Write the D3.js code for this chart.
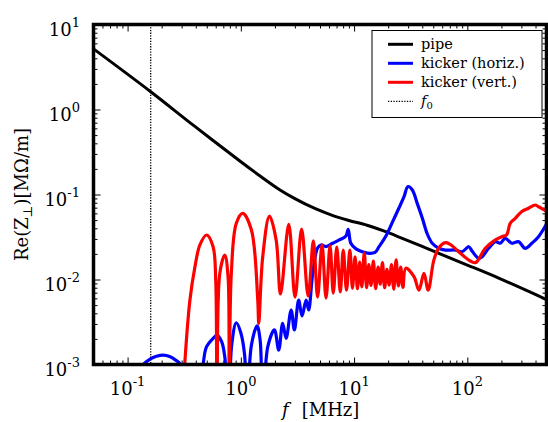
<!DOCTYPE html>
<html>
<head>
<meta charset="utf-8">
<script src="https://cdnjs.cloudflare.com/ajax/libs/d3/7.8.5/d3.min.js"></script>
<style>
  body { margin: 0; background: #fff; }
  svg { display: block; font-family: "DejaVu Serif", serif; }
</style>
</head>
<body>
<svg id="chart" width="548" height="422"></svg>
<script>
// Tick values (MHz / MOhm per m)
const xMajor = [0.1, 1, 10, 100];
const yMajor = [1e-3, 1e-2, 1e-1, 1, 10];
const xExp = ["-1", "0", "1", "2"];
const yExp = ["-3", "-2", "-1", "0", "1"];

// revolution frequency
const f0 = 0.16;

// [f in MHz, Re(Z) in MOhm/m]
const pipe = [
  [0.05, 5.17], [0.16, 1.62], [0.385, 0.645], [1.0, 0.243], [1.5, 0.163],
  [2.2, 0.114], [3.0, 0.0895], [4.5, 0.0685], [6.5, 0.0565], [9, 0.0495],
  [13, 0.0435], [18, 0.0375], [25, 0.0316], [56, 0.0203], [100, 0.0148],
  [189, 0.0104], [368, 0.0070], [500, 0.0058]
];

const horiz = [
  [0.13, 8e-4], [0.138, 1.0e-3], [0.158, 1.16e-3], [0.18, 1.25e-3], [0.207, 1.29e-3],
  [0.235, 1.24e-3], [0.262, 1.14e-3], [0.295, 1.0e-3], [0.33, 5e-4], [0.40, 2e-4],
  [0.464, 1.0e-3], [0.498, 1.62e-3], [0.569, 2.03e-3], [0.617, 2.22e-3], [0.678, 1.84e-3],
  [0.721, 1.24e-3], [0.78, 3e-4],
  [0.83, 1.69e-3], [0.912, 3.1e-3], [0.995, 2.41e-3], [1.08, 1.29e-3], [1.13, 3e-4],
  [1.24, 1.69e-3], [1.39, 2.84e-3], [1.48, 1.94e-3], [1.56, 3e-4],
  [1.73, 1.62e-3], [1.98, 2.55e-3], [2.16, 1.48e-3], [2.34, 3.05e-3], [2.51, 2.03e-3],
  [2.78, 4.38e-3], [2.97, 2.55e-3], [3.24, 5.74e-3], [3.47, 3.72e-3], [3.77, 5.74e-3],
  [3.97, 4.38e-3], [4.31, 0.0118], [4.76, 0.0235], [5.10, 0.0255], [5.65, 0.0244],
  [6.46, 0.0267], [7.39, 0.0292], [8.47, 0.0325], [8.87, 0.039], [9.36, 0.0267],
  [10.4, 0.0229], [11.8, 0.0212], [13.6, 0.0203], [15.3, 0.0208], [16.6, 0.0243],
  [19.1, 0.0325], [21.8, 0.0474], [24.9, 0.0693], [27.6, 0.0942], [29.9, 0.124],
  [32.7, 0.113], [36.1, 0.0787], [40.0, 0.053], [44.3, 0.0343], [49.0, 0.0267],
  [56.0, 0.0233], [64.1, 0.0222], [78.5, 0.0222], [89.8, 0.0212], [103, 0.0243],
  [110, 0.0216], [126, 0.0177], [135, 0.0185], [154, 0.0233], [177, 0.0279],
  [195, 0.0267], [216, 0.0305], [247, 0.0267], [283, 0.0279], [324, 0.0233],
  [371, 0.0267], [425, 0.0319], [500, 0.045]
];

const vert = [
  [0.30, 2e-4], [0.32, 1.04e-3], [0.355, 5.7e-3], [0.393, 0.014], [0.435, 0.0255],
  [0.498, 0.0334], [0.569, 0.0243], [0.60, 0.0099], [0.616, 3e-4],
  [0.652, 0.0118], [0.721, 0.0194], [0.771, 0.0108], [0.786, 3e-4],
  [0.824, 0.0118], [0.912, 0.0458], [1.04, 0.060], [1.24, 0.0382], [1.41, 0.00574],
  [1.44, 0.00305], [1.56, 0.0185], [1.79, 0.0558], [2.05, 0.0292], [2.24, 0.00675],
  [2.65, 0.0444], [3.01, 0.00622], [3.44, 0.0393], [3.93, 0.0064], [4.37, 0.0284],
  [4.76, 0.00622], [5.21, 0.0255], [5.65, 0.00605], [6.13, 0.0248], [6.55, 0.00693],
  [7.03, 0.0241], [7.55, 0.00713], [8.02, 0.0222], [8.57, 0.0075], [9.18, 0.0222],
  [9.67, 0.0079],
  [10.2, 0.0185], [10.7, 0.0078], [11.2, 0.016], [11.7, 0.0082], [12.3, 0.0205],
  [12.9, 0.008], [13.5, 0.015], [14.1, 0.0085], [14.8, 0.0165], [15.5, 0.0078],
  [16.3, 0.014], [17.0, 0.0088], [17.8, 0.0158], [18.6, 0.008], [19.5, 0.0132],
  [20.4, 0.0086], [21.4, 0.015], [22.4, 0.0077], [23.5, 0.017], [24.6, 0.0084],
  [25.8, 0.014], [27.0, 0.0081],
  [28.6, 0.0136], [33.8, 0.0108], [37.4, 0.0075], [41.4, 0.0118], [45.1, 0.0075],
  [50.6, 0.0169], [56.0, 0.0235], [64.1, 0.0271], [70, 0.026], [84, 0.0212],
  [103, 0.0169], [118, 0.0158], [144, 0.0233], [177, 0.0292], [201, 0.0319],
  [222, 0.0334], [239, 0.0458], [265, 0.0525], [301, 0.0628], [347, 0.0689],
  [397, 0.0752], [425, 0.0718], [480, 0.0657], [500, 0.064]
];

const legendItems = [
  {label: "pipe", color: "#000", dash: null},
  {label: "kicker (horiz.)", color: "#0000ff", dash: null},
  {label: "kicker (vert.)", color: "#ff0000", dash: null},
  {label: "f0", color: "#000", dash: "1.3,1.4"}
];

// Layout
const plotL = 93.5, plotR = 546.5, plotT = 24.5, plotB = 364.5;

const svg = d3.select("#chart");

const x = d3.scaleLog().domain([0.05, 500]).range([plotL, plotR]);
const y = d3.scaleLog().domain([1e-3, 10]).range([plotB, plotT]);

const xMinor = x.ticks().filter(d => !xMajor.some(m => Math.abs(m - d) < 1e-9));
const yMinor = y.ticks().filter(d => !yMajor.some(m => Math.abs(m - d) < 1e-9));

// Clip
svg.append("defs").append("clipPath").attr("id", "plot-clip")
  .append("rect")
  .attr("x", plotL).attr("y", plotT)
  .attr("width", plotR - plotL).attr("height", plotB - plotT);

// Ticks, all sides, pointing inward
let noDomain = g => g.select(".domain").remove();

let addAxis = function(axis, tx, ty, values, size) {
  svg.append("g")
    .attr("transform", `translate(${tx},${ty})`)
    .call(axis.tickValues(values).tickSize(-size).tickFormat(""))
    .call(noDomain)
    .selectAll("line").attr("stroke", "#000").attr("stroke-width", 1);
};

addAxis(d3.axisBottom(x), 0, plotB, xMajor, 7);
addAxis(d3.axisBottom(x), 0, plotB, xMinor, 4);
addAxis(d3.axisTop(x), 0, plotT, xMajor, 7);
addAxis(d3.axisTop(x), 0, plotT, xMinor, 4);
addAxis(d3.axisLeft(y), plotL, 0, yMajor, 7);
addAxis(d3.axisLeft(y), plotL, 0, yMinor, 4);
addAxis(d3.axisRight(y), plotR, 0, yMajor, 7);
addAxis(d3.axisRight(y), plotR, 0, yMinor, 4);

// f0 marker
svg.append("line")
  .attr("x1", x(f0)).attr("x2", x(f0))
  .attr("y1", plotT).attr("y2", plotB)
  .attr("stroke", "#000").attr("stroke-width", 1.3)
  .attr("stroke-dasharray", "1.3,1.4");

// Curves
let line = d3.line()
  .x(d => x(d[0]))
  .y(d => y(d[1]))
  .curve(d3.curveCatmullRom.alpha(0.5));

let curves = svg.append("g").attr("clip-path", "url(#plot-clip)");

[[pipe, "#000", 3], [horiz, "#0000ff", 3.2], [vert, "#ff0000", 3.2]].forEach(function(c) {
  curves.append("path")
    .datum(c[0])
    .attr("d", line)
    .attr("fill", "none")
    .attr("stroke", c[1])
    .attr("stroke-width", c[2])
    .attr("stroke-linejoin", "round");
});

// Frame
svg.append("rect")
  .attr("x", plotL).attr("y", plotT)
  .attr("width", plotR - plotL).attr("height", plotB - plotT)
  .attr("fill", "none").attr("stroke", "#000").attr("stroke-width", 3.5);

// Tick labels
let powLabel = function(sel, exp) {
  sel.append("tspan").text("10");
  sel.append("tspan").attr("dy", -9.5).attr("font-size", 13).text(exp);
};

xMajor.forEach(function(d, i) {
  svg.append("text")
    .attr("x", x(d)).attr("y", 395)
    .attr("text-anchor", "middle")
    .attr("font-size", 18)
    .call(powLabel, xExp[i]);
});

yMajor.forEach(function(d, i) {
  svg.append("text")
    .attr("x", 80).attr("y", y(d) + 11.8)
    .attr("text-anchor", "end")
    .attr("font-size", 18)
    .call(powLabel, yExp[i]);
});

// Axis titles
let xt = svg.append("text")
  .attr("x", 282).attr("y", 416)
  .attr("font-size", 18);
xt.append("tspan").attr("font-style", "italic").text("f");
xt.append("tspan").attr("dx", 13).text("[MHz]");

let yt = svg.append("text")
  .attr("transform", "translate(28,194.5) rotate(-90)")
  .attr("text-anchor", "middle")
  .attr("font-size", 18);
yt.append("tspan").text("Re(Z");
yt.append("tspan").attr("font-size", 12.6).attr("dy", 4).text("\u22a5");
yt.append("tspan").attr("dy", -4).text(")[M\u03a9/m]");

// Legend
let lg = svg.append("g");
lg.append("rect")
  .attr("x", 372).attr("y", 30.5)
  .attr("width", 170).attr("height", 87)
  .attr("fill", "#fff").attr("stroke", "#000").attr("stroke-width", 1);

legendItems.forEach(function(d, i) {
  let cy = 44.3 + i * 19;
  lg.append("line")
    .attr("x1", 388).attr("x2", 413)
    .attr("y1", cy).attr("y2", cy)
    .attr("stroke", d.color)
    .attr("stroke-width", d.dash ? 1.3 : 3)
    .attr("stroke-dasharray", d.dash);

  let t = lg.append("text")
    .attr("x", 421).attr("y", cy + 5)
    .attr("font-size", 14.5);
  if (d.label === "f0") {
    t.append("tspan").attr("font-style", "italic").text("f");
    t.append("tspan").attr("font-size", 10).attr("dy", 3).text("0");
  }
  else { t.text(d.label); }
});
</script>
</body>
</html>
